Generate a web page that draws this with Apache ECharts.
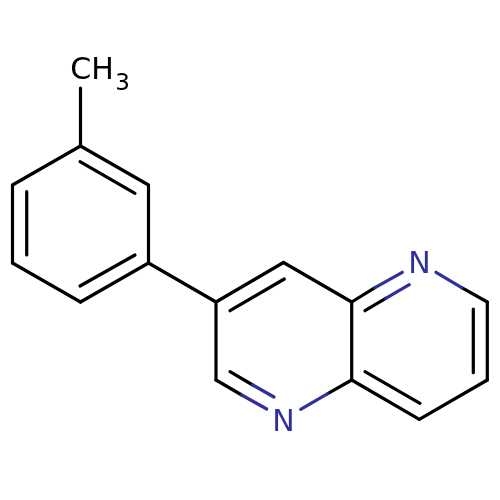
<!DOCTYPE html>
<html><head><meta charset="utf-8">
<style>html,body{margin:0;padding:0;background:#fff}#c{width:500px;height:500px}</style>
<script src="https://cdn.jsdelivr.net/npm/echarts@6/dist/echarts.min.js"></script>
</head><body><div id="c"></div>
<script>
var blackBonds = [
 [80.5,88,80.5,146],[80.5,146,148.5,185],[148.5,185,148.5,263],[148.5,263,80.5,302],[80.5,302,12.5,263],[12.5,263,12.5,185],[12.5,185,80.5,146],
 [80,161.7,135,193.3],[26.7,191.7,26.7,255],[80,286,135,255],
 [148.5,263,216,302],
 [216,302,283.5,262.5],[283.5,262.5,351.7,302],[351.7,302,351.7,380],[216,302,216,380],[216,380,241.7,395],
 [230,310.7,284.3,279],[230,371.7,252.7,385],
 [351.7,302,375,287.7],[365,310.7,385.7,298.3],[351.7,380,327.7,393.7],
 [461.7,287.7,487.3,302],[487.3,302,487.3,380],[487.3,380,419.3,419.3],[419.3,419.3,351.7,380],
 [473.3,309,473.3,372.7],[365,371.7,420,403.3]
];
var blueBonds = [
 [241.7,395,266.7,409],[252.7,385,274,397],[327.7,393.7,300.7,409.3],
 [375,287.7,402.3,272.3],[385.7,298.3,409.3,284.7],[436,272.3,461.7,287.7]
];
var atomLabels = [
 {text:'CH',x:92,y:71,size:30,color:'#000000'},
 {text:'3',x:122.5,y:84,size:23,color:'#000000'},
 {text:'N',x:419.5,y:265,size:30,color:'#30309c'},
 {text:'N',x:283.5,y:423,size:30,color:'#30309c'}
];
function bondSeries(bonds,color){
 return {type:'custom',coordinateSystem:'cartesian2d',silent:true,animation:false,clip:false,
  data:bonds,encode:{x:[0,2],y:[1,3]},
  renderItem:function(p,api){
   var a=api.coord([api.value(0),api.value(1)]),b=api.coord([api.value(2),api.value(3)]);
   return {type:'line',shape:{x1:a[0],y1:a[1],x2:b[0],y2:b[1]},style:{stroke:color,lineWidth:3.2,lineCap:'round',fill:null}};
  }};
}
var chart=echarts.init(document.getElementById('c'),null,{renderer:'canvas'});
chart.setOption({
 animation:false,backgroundColor:'#ffffff',
 grid:{left:0,right:0,top:0,bottom:0},
 xAxis:{type:'value',min:0,max:500,show:false},
 yAxis:{type:'value',min:0,max:500,inverse:true,show:false},
 series:[bondSeries(blackBonds,'#000000'),bondSeries(blueBonds,'#30309c'),
 {type:'custom',coordinateSystem:'cartesian2d',silent:true,animation:false,
  data:atomLabels.map(function(l){return [l.x,l.y];}),
  renderItem:function(p,api){
   var l=atomLabels[p.dataIndex],c=api.coord([api.value(0),api.value(1)]);
   return {type:'text',x:c[0],y:c[1],style:{text:l.text,fill:l.color,font:l.size+'px "DejaVu Sans"',align:'center',verticalAlign:'middle'}};
  }}]
});
</script></body></html>
